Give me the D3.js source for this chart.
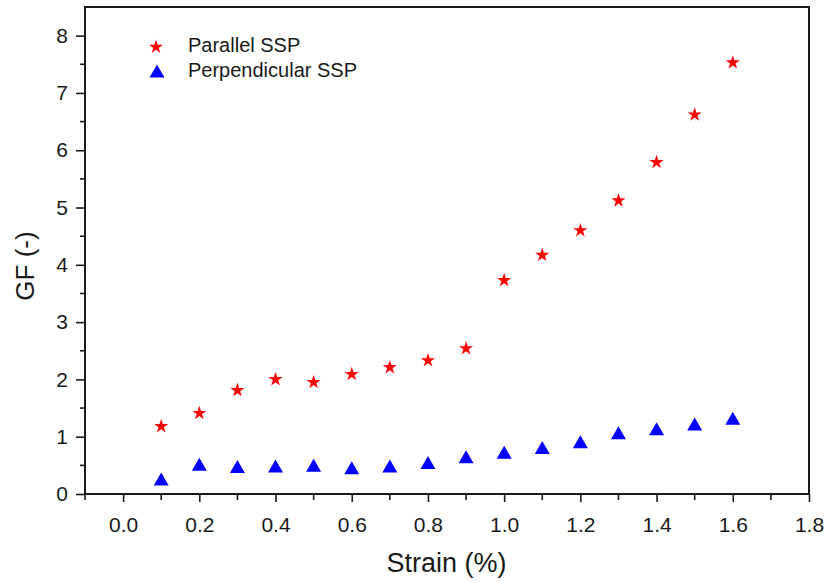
<!DOCTYPE html>
<html>
<head>
<meta charset="utf-8">
<script src="https://cdn.jsdelivr.net/npm/d3@7"></script>
<style>
  html, body { margin: 0; padding: 0; background: #fff; }
  svg { display: block; font-family: Arial, "Liberation Sans", sans-serif; }
</style>
</head>
<body>
<svg id="chart" width="830" height="582"></svg>
<script>
// Strain levels (%) and gauge factors for the two printing directions
const strain = [0.1, 0.2, 0.3, 0.4, 0.5, 0.6, 0.7, 0.8, 0.9, 1.0, 1.1, 1.2, 1.3, 1.4, 1.5, 1.6];
const gfParallel = [1.18, 1.41, 1.81, 2.00, 1.95, 2.09, 2.21, 2.33, 2.54, 3.73, 4.17, 4.60, 5.12, 5.79, 6.62, 7.53];
const gfPerpendicular = [0.26, 0.52, 0.48, 0.49, 0.50, 0.46, 0.49, 0.55, 0.65, 0.73, 0.81, 0.91, 1.07, 1.14, 1.22, 1.32];
const xTicks = [0.0, 0.2, 0.4, 0.6, 0.8, 1.0, 1.2, 1.4, 1.6, 1.8];
const yTicks = [0, 1, 2, 3, 4, 5, 6, 7, 8];
const seriesNames = ["Parallel SSP", "Perpendicular SSP"];

const svg = d3.select("#chart");
const L = 85, R = 809, T = 7, B = 494;

const x = d3.scaleLinear().domain([-0.1, 1.8]).range([L, R]);
const y = d3.scaleLinear().domain([0, 8.5]).range([B, T]);

// Marker shapes
const starPath = d3.symbol().type(d3.symbolStar).size(62)();
// Upward triangle centred on its bounding box
function triPath(w, h) {
  return `M0,${-h / 2}L${w / 2},${h / 2}L${-w / 2},${h / 2}Z`;
}
const triangle = triPath(15, 13);

const axisColor = "#1a1a1a";
const textColor = "#1a1a1a";

// Minor ticks
const xMinor = d3.range(-0.1, 1.81, 0.1).map(v => +v.toFixed(2)).filter(v => !xTicks.some(t => Math.abs(t - v) < 1e-6));
const yMinor = d3.range(0.5, 8.5, 1);

// Bottom axis
const xAxis = d3.axisBottom(x).tickValues(xTicks).tickFormat(d3.format(".1f")).tickSize(8).tickPadding(15);
const gx = svg.append("g").attr("transform", `translate(0,${B})`).call(xAxis);
gx.select(".domain").remove();
gx.selectAll(".tick line").attr("stroke", axisColor).attr("stroke-width", 1.6);
gx.selectAll(".tick text").attr("font-size", 21).attr("fill", textColor);
gx.selectAll(".minor").data(xMinor).enter().append("line")
  .attr("x1", d => x(d)).attr("x2", d => x(d)).attr("y1", 0).attr("y2", 6)
  .attr("stroke", axisColor).attr("stroke-width", 1.6);

// Left axis
const yAxis = d3.axisLeft(y).tickValues(yTicks).tickFormat(d3.format("d")).tickSize(9).tickPadding(8);
const gy = svg.append("g").attr("transform", `translate(${L},0)`).call(yAxis);
gy.select(".domain").remove();
gy.selectAll(".tick line").attr("stroke", axisColor).attr("stroke-width", 1.6);
gy.selectAll(".tick text").attr("font-size", 21).attr("fill", textColor);
gy.selectAll(".minor").data(yMinor).enter().append("line")
  .attr("y1", d => y(d)).attr("y2", d => y(d)).attr("x1", 0).attr("x2", -5)
  .attr("stroke", axisColor).attr("stroke-width", 1.6);

// Plot frame
svg.append("rect")
  .attr("x", L).attr("y", T).attr("width", R - L).attr("height", B - T)
  .attr("fill", "none").attr("stroke", axisColor).attr("stroke-width", 2);

// Data markers
svg.append("g").selectAll("path").data(strain.map((s, i) => [s, gfPerpendicular[i]])).enter()
  .append("path").attr("d", triangle)
  .attr("transform", d => `translate(${x(d[0])},${y(d[1])})`)
  .attr("fill", "#0000ff");

svg.append("g").selectAll("path").data(strain.map((s, i) => [s, gfParallel[i]])).enter()
  .append("path").attr("d", starPath)
  .attr("transform", d => `translate(${x(d[0])},${y(d[1])})`)
  .attr("fill", "#ff0000");

// Axis titles
svg.append("text").attr("x", 446.5).attr("y", 572)
  .attr("text-anchor", "middle").attr("font-size", 27).attr("fill", textColor)
  .text("Strain (%)");
svg.append("text").attr("transform", "translate(34,266) rotate(-90)")
  .attr("text-anchor", "middle").attr("font-size", 26).attr("fill", textColor)
  .text("GF (-)");

// Legend
const legend = svg.append("g");
legend.append("path").attr("d", starPath).attr("transform", "translate(156,47)").attr("fill", "#ff0000");
legend.append("text").attr("x", 188).attr("y", 52).attr("font-size", 20).attr("fill", textColor).text(seriesNames[0]);
legend.append("path").attr("d", triPath(15, 13)).attr("transform", "translate(157,71)").attr("fill", "#0000ff");
legend.append("text").attr("x", 188).attr("y", 77).attr("font-size", 20).attr("fill", textColor).text(seriesNames[1]);
</script>
</body>
</html>
